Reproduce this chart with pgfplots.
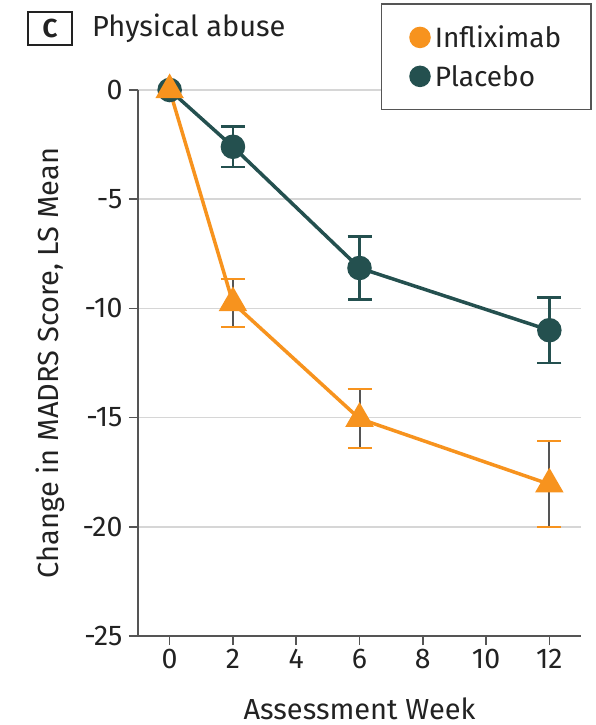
\documentclass[border=0pt]{standalone}
\usepackage{pgfplots}
\pgfplotsset{compat=1.18}
\usepackage{fontspec}
\setmainfont{Fira Sans}

\definecolor{infl}{HTML}{F7931E}
\definecolor{plac}{HTML}{24504F}
\definecolor{axgray}{HTML}{555555}
\definecolor{gridgray}{HTML}{D6D6D6}
\definecolor{txt}{HTML}{222222}

\begin{document}
\begin{tikzpicture}[font=\fontsize{29}{34}\selectfont, text=txt]
\useasboundingbox (-138pt,-89pt) rectangle (458pt,636pt);
\begin{axis}[
  name=ax,
  scale only axis, width=443pt, height=546pt,
  xmin=-1, xmax=13, ymin=-25, ymax=0,
  axis lines=left,
  axis line style={-, axgray, line width=1.5pt},
  xtick={0,2,...,12}, ytick={-25,-20,...,0},
  tick style={axgray, line width=1.5pt},
  tick align=outside, major tick length=9pt,
  ymajorgrids, grid style={gridgray, line width=1.6pt},
  /pgf/number format/assume math mode=true,
  ticklabel style={font=\fontsize{28.5}{34}\selectfont},
  xticklabel style={yshift=-1pt},
  yticklabel style={xshift=-3pt},
  clip=false,
  xlabel={Assessment Week},
  ylabel={Change in MADRS Score, LS Mean},
  xlabel style={at={(axis description cs:0.5,-0.1538)}, anchor=base},
  ylabel style={at={(axis description cs:-0.1986,0.5)}, anchor=center},
  legend style={at={(axis description cs:1.0248,1.1593)}, anchor=north east,
    draw=axgray, line width=1.5pt, inner xsep=28pt, inner ysep=20pt,
    row sep=12pt, font=\fontsize{28}{34}\selectfont},
  legend cell align=left,
  legend image code/.code={\fill[#1] (0pt,0pt) circle (10pt);},
]
% Placebo: 95% CI bars, then means
\addplot[draw=none, forget plot,
  error bars/.cd, y dir=both, y explicit,
  error bar style={draw=plac, line width=2.5pt},
  error mark options={draw=plac, line width=2.5pt, mark size=12pt, rotate=90}]
  coordinates {(2,-2.6) +- (0,0.93) (6,-8.15) +- (0,1.45) (12,-11.0) +- (0,1.5)};
\addplot[plac, line width=3.5pt, mark=*, mark size=10.5pt,
  mark options={draw=none, fill=plac}, forget plot]
  coordinates {(0,0) (2,-2.6) (6,-8.15) (12,-11.0)};
% Infliximab
\addplot[draw=none, forget plot,
  error bars/.cd, y dir=both, y explicit,
  error bar style={draw=axgray, line width=2pt},
  error mark options={draw=infl, line width=2.5pt, mark size=12pt, rotate=90}]
  coordinates {(2,-9.75) +- (0,1.1) (6,-15.05) +- (0,1.35) (12,-18.05) +- (0,1.97)};
\addplot[infl, line width=3.5pt, mark=triangle*, mark size=13pt,
  mark options={draw=none, fill=infl}, forget plot]
  coordinates {(0,0) (2,-9.75) (6,-15.05) (12,-18.05)};
\addlegendimage{infl}
\addlegendentry{\hspace{2pt}Infliximab}
\addlegendimage{plac}
\addlegendentry{\hspace{2pt}Placebo}
\end{axis}
\node[draw=txt, line width=1.5pt, minimum width=44pt, minimum height=33pt,
  font=\fontsize{26}{30}\selectfont\bfseries] at (-88pt,607.5pt) {C};
\node[anchor=base west, inner sep=0pt] at (-46pt,599pt) {Physical abuse};
\end{tikzpicture}
\end{document}
